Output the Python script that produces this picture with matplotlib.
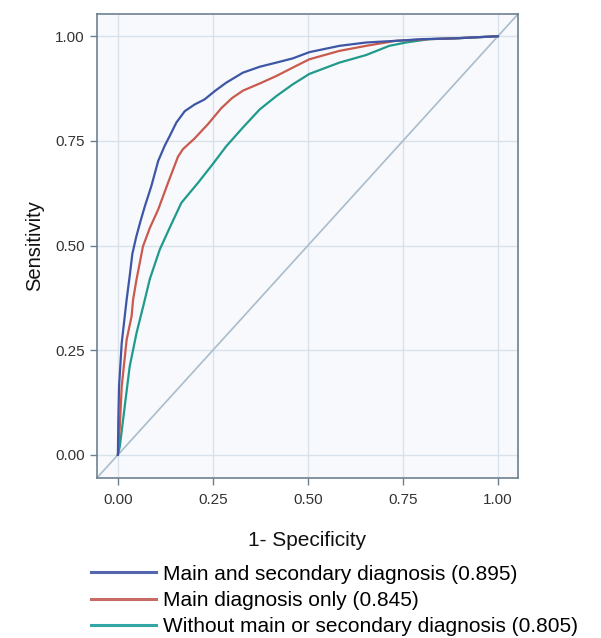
import matplotlib
matplotlib.use("Agg")
import matplotlib.pyplot as plt

plt.rcParams['font.family'] = ['Liberation Sans', 'DejaVu Sans']

# Data
blue_x = [0, 0.001, 0.003, 0.010, 0.018, 0.023, 0.031, 0.038, 0.048, 0.060, 0.071, 0.088,
          0.106, 0.123, 0.136, 0.154, 0.176, 0.202, 0.228, 0.255, 0.285, 0.329, 0.373,
          0.417, 0.460, 0.504, 0.583, 0.653, 0.731, 0.801, 0.889, 1.0]
blue_y = [0, 0.077, 0.163, 0.267, 0.331, 0.371, 0.427, 0.480, 0.520, 0.560, 0.594, 0.642,
          0.702, 0.738, 0.761, 0.794, 0.821, 0.837, 0.849, 0.869, 0.889, 0.913, 0.927,
          0.937, 0.947, 0.962, 0.977, 0.985, 0.989, 0.993, 0.995, 1.0]

red_x = [0, 0.005, 0.010, 0.023, 0.036, 0.040, 0.049, 0.066, 0.084, 0.106, 0.132, 0.158,
         0.171, 0.202, 0.237, 0.272, 0.300, 0.329, 0.373, 0.417, 0.460, 0.504, 0.583,
         0.653, 0.731, 0.819, 0.889, 1.0]
red_y = [0, 0.068, 0.163, 0.275, 0.331, 0.371, 0.419, 0.498, 0.542, 0.586, 0.650, 0.712,
         0.730, 0.756, 0.790, 0.828, 0.852, 0.870, 0.887, 0.905, 0.925, 0.945, 0.965,
         0.977, 0.989, 0.993, 0.995, 1.0]

green_x = [0, 0.005, 0.018, 0.031, 0.049, 0.068, 0.084, 0.110, 0.136, 0.167, 0.211, 0.250,
           0.285, 0.329, 0.373, 0.417, 0.460, 0.504, 0.583, 0.653, 0.714, 0.758,
           0.819, 0.889, 1.0]
green_y = [0, 0.020, 0.116, 0.211, 0.291, 0.360, 0.420, 0.490, 0.542, 0.602, 0.650, 0.695,
           0.737, 0.782, 0.825, 0.857, 0.885, 0.910, 0.937, 0.955, 0.977, 0.985,
           0.993, 0.995, 1.0]

labels = ["Main and secondary diagnosis (0.895)",
          "Main diagnosis only (0.845)",
          "Without main or secondary diagnosis (0.805)"]
ticks = [0.0, 0.25, 0.5, 0.75, 1.0]
tick_labels = ["0.00", "0.25", "0.50", "0.75", "1.00"]

fig = plt.figure(figsize=(6.01, 6.38), dpi=100)
fig.patch.set_facecolor('white')
ax = fig.add_axes([0.1614, 0.251, 0.7006, 0.727])
ax.set_facecolor('#f8f9fc')

lo, hi = -0.055, 1.053
ax.set_xlim(lo, hi)
ax.set_ylim(lo, hi)

ax.grid(True, color='#d9e1ea', linewidth=1.0)
ax.set_axisbelow(True)

ax.plot([lo, hi], [lo, hi], color='#a9bccc', linewidth=1.2, zorder=2)

l1, = ax.plot(blue_x, blue_y, color='#3d56a6', linewidth=1.6, zorder=5)
l2, = ax.plot(red_x, red_y, color='#c85a4e', linewidth=1.6, zorder=4)
l3, = ax.plot(green_x, green_y, color='#1f9a8c', linewidth=1.6, zorder=3)

ax.set_xticks(ticks)
ax.set_xticklabels(tick_labels)
ax.set_yticks(ticks)
ax.set_yticklabels(tick_labels)
ax.tick_params(axis='both', direction='out', length=5, width=1, color='#6d8090',
               labelsize=11, labelcolor='#333333', pad=4)
ax.tick_params(axis='x', pad=6)

for sp in ax.spines.values():
    sp.set_color('#6d8090')
    sp.set_linewidth(1.2)

ax.set_xlabel("1- Specificity", fontsize=15, color='#111111', labelpad=17)
ax.set_ylabel("Sensitivity", fontsize=14.5, color='#111111', labelpad=8)

leg_handles = [plt.Line2D([], [], color='#5565b0', linewidth=2.2),
               plt.Line2D([], [], color='#c86a66', linewidth=2.2),
               plt.Line2D([], [], color='#35a6a6', linewidth=2.2)]
fig.legend(leg_handles, labels, loc='upper left', bbox_to_anchor=(0.152, 0.115),
           frameon=False, fontsize=15, handlelength=3.1, handletextpad=0.35,
           labelspacing=0.35, borderaxespad=0, borderpad=0)

fig.savefig("out.png", dpi=100)
